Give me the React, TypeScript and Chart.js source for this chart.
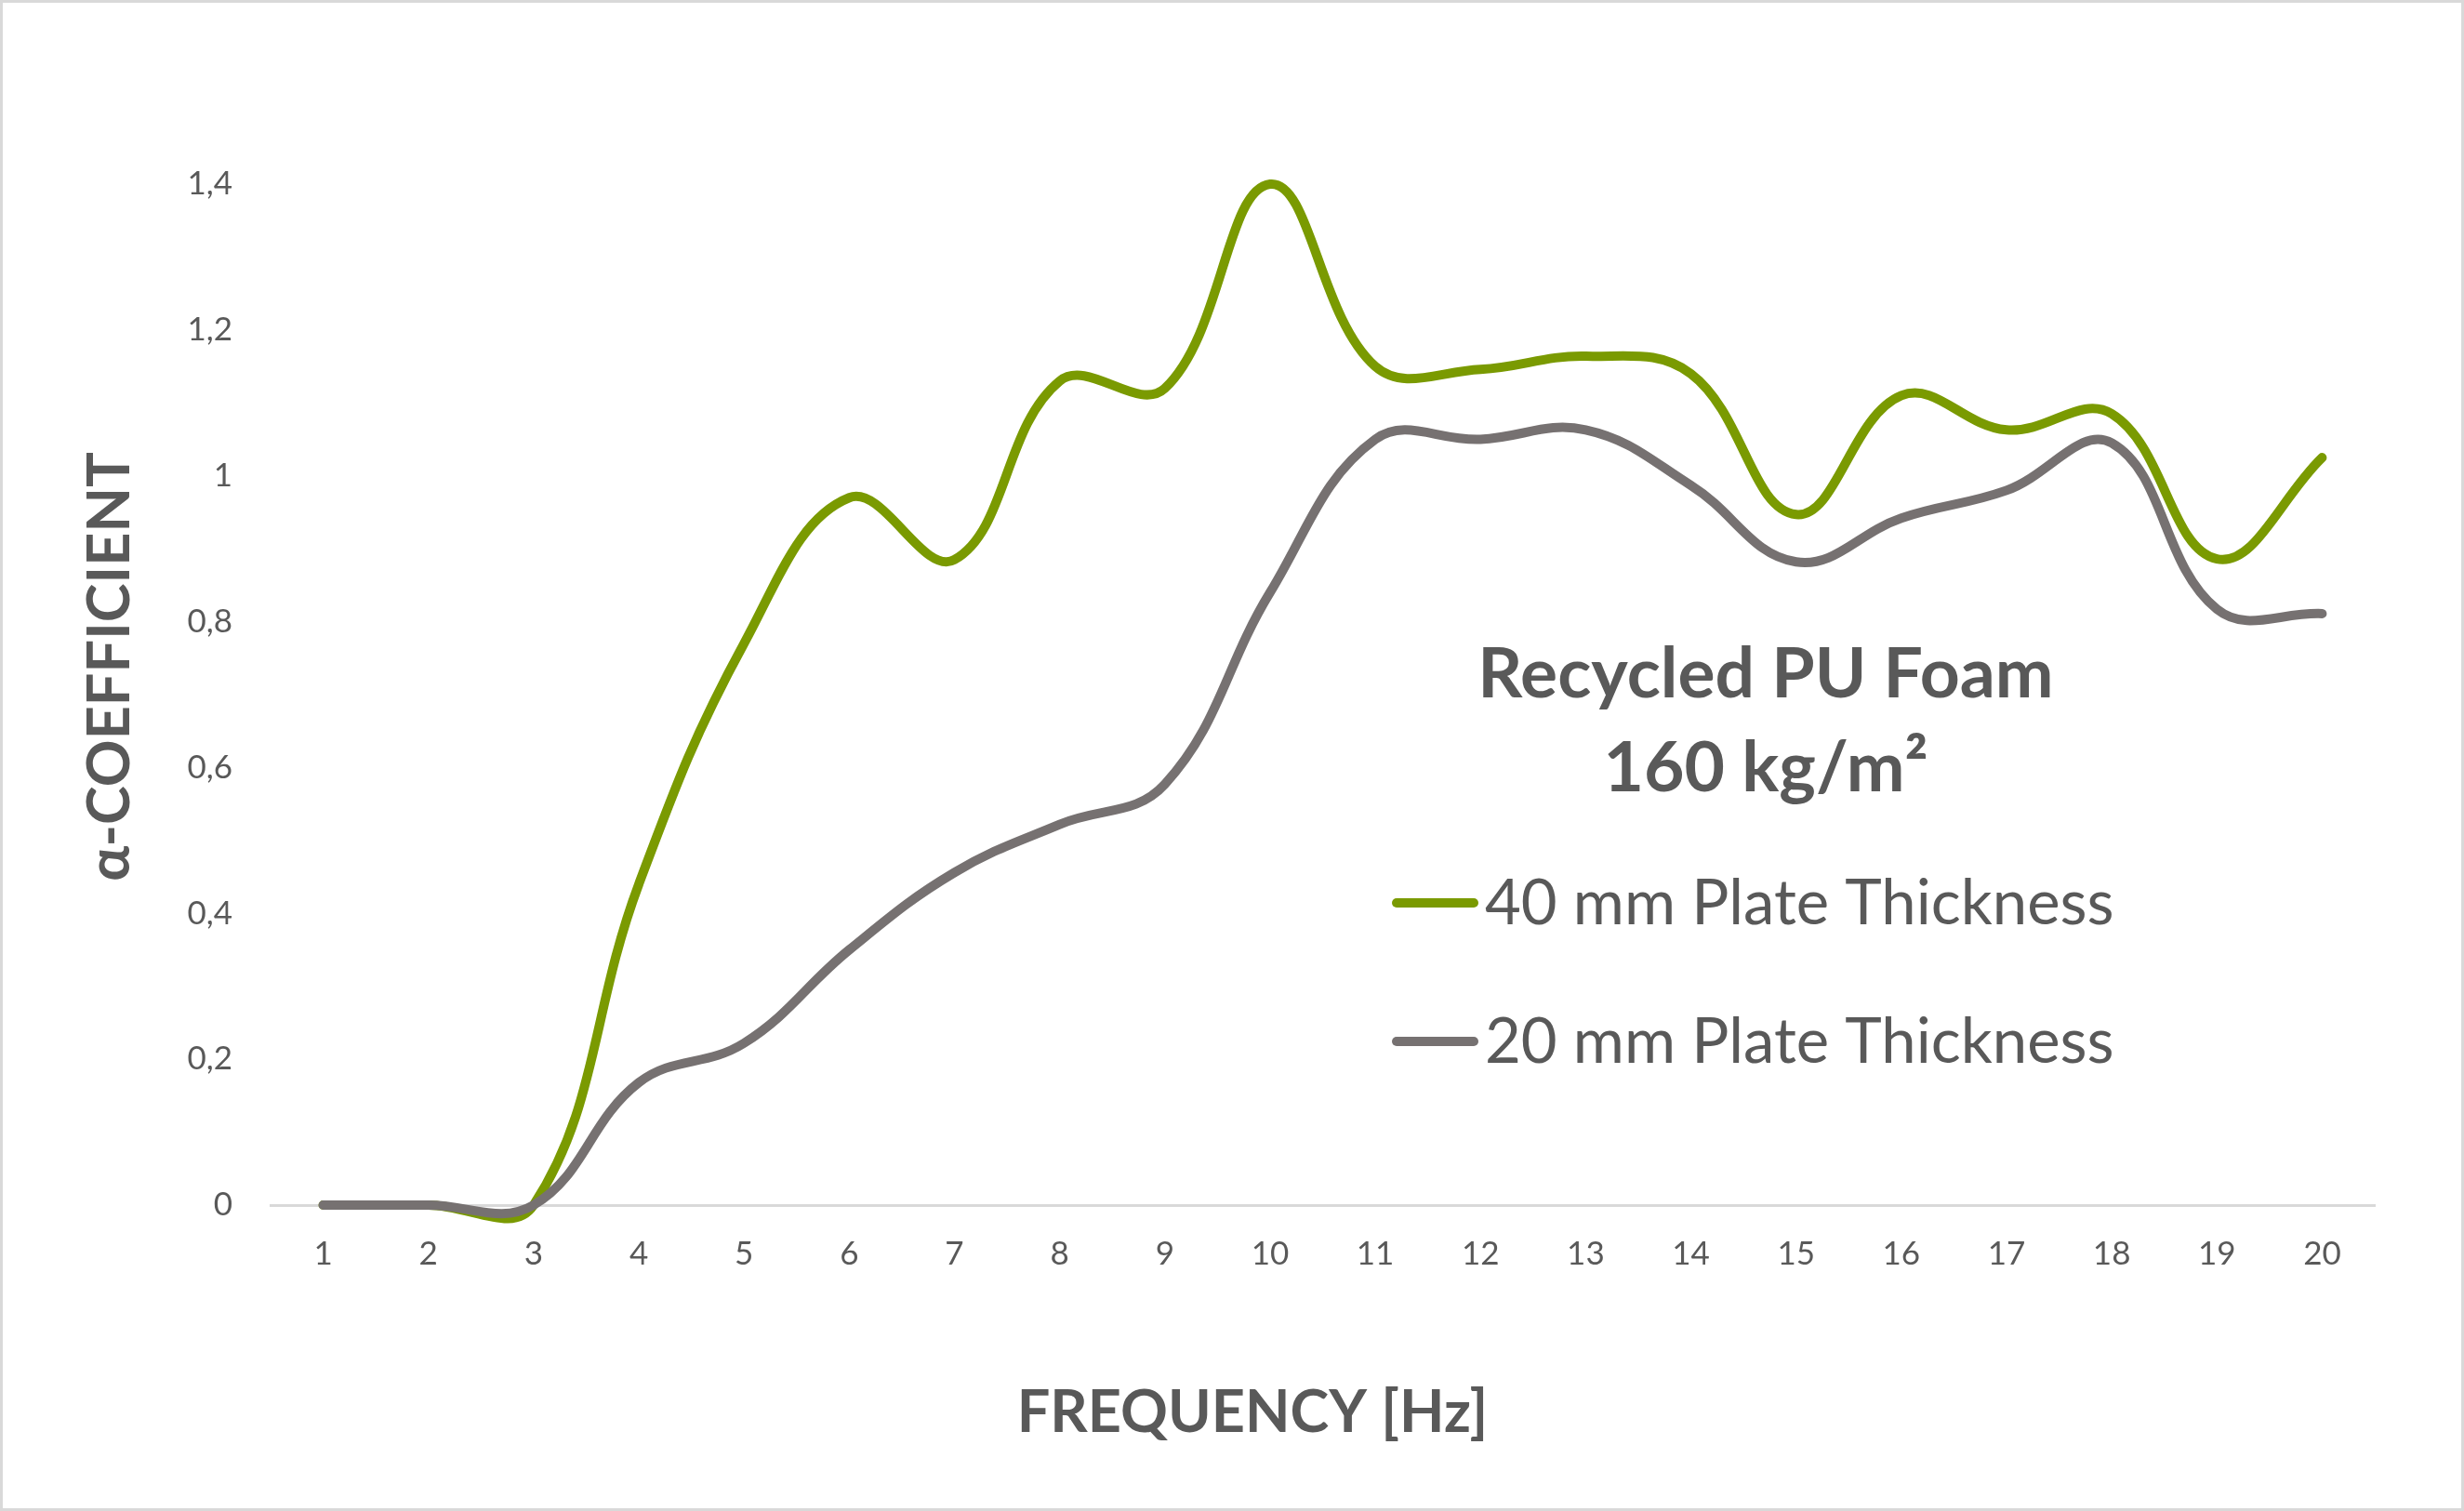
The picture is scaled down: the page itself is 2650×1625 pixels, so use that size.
import { useEffect, useRef } from 'react'
import Chart from 'chart.js/auto'

// frequency categories on the x axis
const frequencies = ['1', '2', '3', '4', '5', '6', '7', '8', '9', '10', '11', '12', '13', '14', '15', '16', '17', '18', '19', '20']

// absorption coefficient per frequency
const plate40mm = [0, 0, 0, 0.44, 0.77, 0.97, 0.885, 1.13, 1.12, 1.4, 1.15, 1.146, 1.164, 1.14, 0.947, 1.11, 1.063, 1.085, 0.886, 1.025]
const plate20mm = [0, 0, 0, 0.168, 0.222, 0.35, 0.456, 0.522, 0.577, 0.84, 1.05, 1.05, 1.063, 0.987, 0.882, 0.942, 0.98, 1.045, 0.817, 0.811]

const seriesLabels = ['40 mm Plate Thickness', '20 mm Plate Thickness']
const seriesColors = ['#7A9A01', '#767171']

const yTickValues = [0, 0.2, 0.4, 0.6, 0.8, 1, 1.2, 1.4]
const annotationLines = ['Recycled PU Foam', '160 kg/m²']
const xTitle = 'FREQUENCY [Hz]'
const yTitle = 'α-COEFFICIENT'

const TEXT = '#595959'
const FONT = 'Lato, "DejaVu Sans", sans-serif'

const fmtTick = (v: number) => String(Number(v.toFixed(1))).replace('.', ',')

export default function App() {
  const canvasRef = useRef<HTMLCanvasElement>(null)
  const chartRef = useRef<Chart | null>(null)

  useEffect(() => {
    if (!canvasRef.current) return
    chartRef.current?.destroy()

    chartRef.current = new Chart(canvasRef.current, {
      type: 'line',
      data: {
        labels: frequencies,
        datasets: [
          {
            label: seriesLabels[0],
            data: plate40mm,
            borderColor: seriesColors[0],
            borderWidth: 10,
            pointRadius: 0,
            tension: 0.4,
            borderCapStyle: 'round',
            borderJoinStyle: 'round',
            fill: false,
            clip: false,
            order: 1,
          },
          {
            label: seriesLabels[1],
            data: plate20mm,
            borderColor: seriesColors[1],
            borderWidth: 10,
            pointRadius: 0,
            tension: 0.4,
            borderCapStyle: 'round',
            borderJoinStyle: 'round',
            fill: false,
            clip: false,
            order: 0,
          },
        ],
      },
      options: {
        animation: false,
        responsive: true,
        maintainAspectRatio: false,
        devicePixelRatio: 1,
        elements: { line: { capBezierPoints: false } },
        layout: { padding: { left: 0, right: 96, top: 198, bottom: 0 } },
        plugins: {
          legend: { display: false },
          tooltip: { enabled: false },
        },
        scales: {
          x: {
            offset: true,
            grid: { display: false, drawTicks: false },
            border: { display: true, color: '#D9D9D9', width: 3 },
            ticks: { color: TEXT, font: { family: FONT, size: 35 }, padding: 32, maxRotation: 0, autoSkip: false },
            afterFit(scale) { scale.height = 329 },
          },
          y: {
            min: 0,
            max: 1.4,
            grid: { display: false, drawTicks: false },
            border: { display: false },
            afterBuildTicks(scale) { scale.ticks = yTickValues.map(value => ({ value })) },
            ticks: {
              color: TEXT,
              font: { family: FONT, size: 35 },
              padding: 41,
              callback: (v) => fmtTick(Number(v)),
            },
            afterFit(scale) { scale.width = 291 },
          },
        },
      },
      plugins: [
        {
          id: 'excelDecor',
          afterDraw(chart) {
            const { ctx, width, height } = chart
            ctx.save()
            // outer chart border
            ctx.strokeStyle = '#D9D9D9'
            ctx.lineWidth = 3
            ctx.strokeRect(1.5, 1.5, width - 3, height - 3)

            ctx.fillStyle = TEXT
            // x axis title
            ctx.font = `bold 63px ${FONT}`
            ctx.textAlign = 'center'
            ctx.textBaseline = 'alphabetic'
            ctx.fillText(xTitle, 1347, 1540)

            // y axis title
            ctx.save()
            ctx.translate(139, 717)
            ctx.rotate(-Math.PI / 2)
            ctx.fillText(yTitle, 0, 0)
            ctx.restore()

            // annotation in the plot
            ctx.font = `bold 75px ${FONT}`
            ctx.fillText(annotationLines[0], 1899, 750)
            ctx.fillText(annotationLines[1], 1899, 851)

            // legend
            const rows = [971, 1120]
            chart.data.datasets.forEach((ds, i) => {
              const y = rows[i]
              ctx.strokeStyle = ds.borderColor as string
              ctx.lineWidth = 10
              ctx.lineCap = 'round'
              ctx.beginPath()
              ctx.moveTo(1502, y)
              ctx.lineTo(1585, y)
              ctx.stroke()
              ctx.fillStyle = TEXT
              ctx.font = `67px ${FONT}`
              ctx.textAlign = 'left'
              ctx.fillText(ds.label as string, 1597, y + 23)
            })
            ctx.restore()
          },
        },
      ],
    })

    return () => {
      chartRef.current?.destroy()
      chartRef.current = null
    }
  }, [])

  return (
    <div style={{ position: 'fixed', left: 0, top: 0, width: 2650, height: 1625, background: '#fff' }}>
      <canvas ref={canvasRef} />
    </div>
  )
}
